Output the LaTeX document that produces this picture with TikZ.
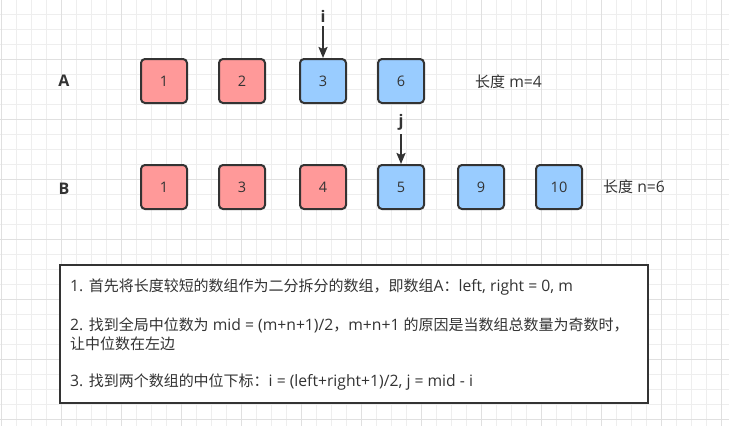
\documentclass[tikz,border=0pt]{standalone}
\usepackage{fontspec}
\setmainfont{Open Sans}
\newfontfamily\cjk[Scale=0.955]{Noto Sans CJK SC}
\usetikzlibrary{arrows.meta}
\definecolor{gridminor}{HTML}{EEEEEE}
\definecolor{gridmajor}{HTML}{E0E0E0}
\definecolor{boxred}{HTML}{FF9999}
\definecolor{boxblue}{HTML}{99CCFF}
\definecolor{ink}{HTML}{333333}
\begin{document}
\begin{tikzpicture}[x=1pt,y=-1pt,
  cell/.style={draw=ink, line width=2pt, rounded corners=4pt, minimum width=46pt, minimum height=44pt, inner sep=0pt, text=ink, font=\fontsize{14.5}{17}\selectfont},
  redcell/.style={cell, fill=boxred},
  bluecell/.style={cell, fill=boxblue},
  arrlabel/.style={text=ink, font=\bfseries\fontsize{16}{18}\selectfont, inner sep=1pt},
  lenlabel/.style={text=ink, font=\fontsize{15.7}{18}\selectfont, inner sep=0pt, anchor=west},
  boxtext/.style={text=ink, font=\fontsize{15.7}{18}\selectfont, inner sep=0pt, anchor=west},
  ptr/.style={draw=ink, line width=2pt, -{Stealth[length=11pt,width=9pt,inset=2pt]}},
]
\fill[white] (0,0) rectangle (729,426);
\useasboundingbox (0,0) rectangle (729,426);
% grid
\foreach \k in {0,...,48} \draw[gridminor, line width=1pt] ({1+15*\k},0) -- ({1+15*\k},426);
\foreach \k in {1,...,28} \draw[gridminor, line width=1pt] (0,{15*\k-0.5}) -- (729,{15*\k-0.5});
\foreach \k in {0,4,...,48} \draw[gridmajor, line width=1pt] ({1+15*\k},0) -- ({1+15*\k},426);
\foreach \k in {4,8,...,28} \draw[gridmajor, line width=1pt] (0,{15*\k-0.5}) -- (729,{15*\k-0.5});

% row labels
\node[arrlabel] (labA) at (64,81) {A};
\node[arrlabel] (labB) at (64,189) {B};

% array A
\node[redcell]  (a1) at (164,81) {1};
\node[redcell]  (a2) at (242,81) {2};
\node[bluecell] (a3) at (323,81) {3};
\node[bluecell] (a4) at (401,81) {6};
\node[lenlabel] (lenA) at (475,82) {{\cjk 长度} m=4};

% array B
\node[redcell]  (b1) at (164,187) {1};
\node[redcell]  (b2) at (242,187) {3};
\node[redcell]  (b3) at (323,187) {4};
\node[bluecell] (b4) at (401,187) {5};
\node[bluecell] (b5) at (481,187) {9};
\node[bluecell] (b6) at (559,187) {10};
\node[lenlabel] (lenB) at (603,187) {{\cjk 长度} n=6};

% pointers
\node[arrlabel] (pi) at (323,16) {i};
\node[arrlabel] (pj) at (401,122) {j};
\draw[ptr, shorten <=3pt] (pi.south) -- (a3.north);
\draw[ptr, shorten <=3pt] (pj.south) -- (b4.north);

% explanation box
\node[draw=ink, line width=2pt, fill=white, minimum width=588pt, minimum height=138pt, inner sep=0pt] (expl) at (354,334) {};
\node[boxtext] (t1) at (70,287) {1. {\cjk 首先将长度较短的数组作为二分拆分的数组，即数组}A{\cjk ：}left, right = 0, m};
\node[boxtext] (t2) at (70,325) {2. {\cjk 找到全局中位数为} mid = (m+n+1)/2{\cjk ，}m+n+1 {\cjk 的原因是当数组总数量为奇数时，}};
\node[boxtext] (t3) at (70,344) {{\cjk 让中位数在左边}};
\node[boxtext] (t4) at (70,382) {3. {\cjk 找到两个数组的中位下标：}i = (left+right+1)/2, j = mid - i};
\end{tikzpicture}
\end{document}
